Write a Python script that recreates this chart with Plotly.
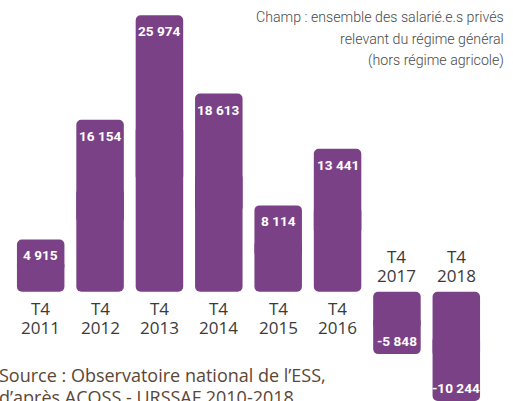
import plotly.graph_objects as go

# Variation de l'emploi salarié (T4), en nombre de postes
quarters = ["T4", "T4", "T4", "T4", "T4", "T4", "T4", "T4"]
years = ["2011", "2012", "2013", "2014", "2015", "2016", "2017", "2018"]
values = [4915, 16154, 25974, 18613, 8114, 13441, -5848, -10244]

champ_lines = [
    "Champ : ensemble des salarié.e.s privés",
    "relevant du régime général",
    "(hors régime agricole)",
]
source_lines = [
    "Source : Observatoire national de l’ESS,",
    "d’après ACOSS - URSSAF 2010-2018",
]

purple = "#7b4186"
cats = [q + " " + y for q, y in zip(quarters, years)]
labels = [f"{v:,}".replace(",", " ") for v in values]

fig = go.Figure()

# each bar is drawn as two overlapping halves so that both ends get rounded corners
fig.add_trace(go.Bar(
    x=cats, y=[v * 0.6 for v in values], base=[v * 0.4 for v in values],
    marker=dict(color=purple, cornerradius=5, line=dict(width=0)),
    hoverinfo="skip",
))
fig.add_trace(go.Bar(
    x=cats, y=[-v * 0.6 for v in values], base=[v * 0.6 for v in values],
    marker=dict(color=purple, cornerradius=5, line=dict(width=0)),
    hoverinfo="skip",
))

anns = []
for c, q, yr, v, lab in zip(cats, quarters, years, values, labels):
    pos = v >= 0
    # value inside the bar, at its far end
    anns.append(dict(
        x=c, y=v, xref="x", yref="y", text=f"<b>{lab}</b>", showarrow=False,
        yanchor="top" if pos else "bottom", yshift=-6 if pos else 3,
        font=dict(family="Liberation Sans Narrow, Arial Narrow, Roboto", size=13.6, color="white"),
    ))
    # category label on the other side of zero
    shifts = [(-3, q), (-22, yr)] if pos else [(22, q), (3, yr)]
    for s, t in shifts:
        anns.append(dict(
            x=c, y=0, xref="x", yref="y", text=t, showarrow=False,
            yanchor="top" if pos else "bottom", yshift=s,
            font=dict(family="Open Sans", size=17, color="#3a3a3a"),
        ))

for i, line in enumerate(champ_lines):
    anns.append(dict(
        x=1, y=1, xref="paper", yref="paper", xanchor="right", yanchor="middle",
        xshift=20, yshift=-17 - 21.5 * i, showarrow=False, text=line,
        font=dict(family="Roboto", size=14.2, color="#4a4a4a", weight=300),
    ))
for i, line in enumerate(source_lines):
    anns.append(dict(
        x=0, y=0, xref="paper", yref="paper", xanchor="left", yanchor="middle",
        xshift=-14, yshift=26 - 22 * i, showarrow=False, text=line,
        font=dict(family="Open Sans", size=18, color="#5b4636"),
    ))

fig.update_layout(
    width=513, height=401,
    margin=dict(l=11, r=27, t=0, b=0),
    paper_bgcolor="white", plot_bgcolor="white",
    barmode="overlay", bargap=0.2, showlegend=False,
    annotations=anns,
)
fig.update_xaxes(visible=False, range=[-0.5, 7.5])
fig.update_yaxes(visible=False, range=[-10250, 27400])

fig.write_html(
    "out.html",
    config={"displayModeBar": False},
    post_script="document.body.style.margin='0';",
)
